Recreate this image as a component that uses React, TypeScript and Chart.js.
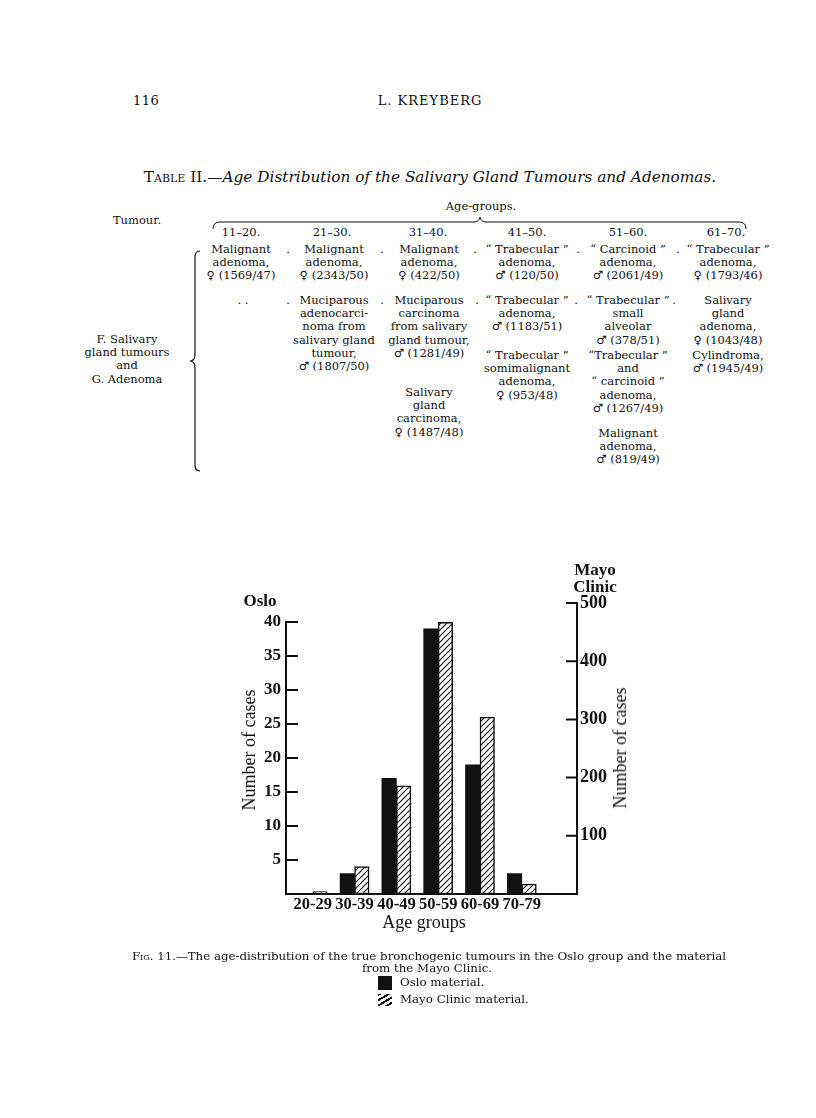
import React, { useEffect, useRef } from 'react';
import { Chart, registerables } from 'chart.js';

Chart.register(...registerables);

// ---- chart data ----
const ageGroups = ['20-29', '30-39', '40-49', '50-59', '60-69', '70-79'];
const osloCases = [0, 3, 17, 39, 19, 3];
const mayoCases = [4, 47, 186, 467, 304, 17];
const osloTicks = [5, 10, 15, 20, 25, 30, 35, 40];
const mayoTicks = [100, 200, 300, 400, 500];

const INK = '#111';
const SERIF = '"DejaVu Serif", serif';
const CHART_SERIF = '"Liberation Serif", serif';

type TProps = {
  x: number; y: number; s: number; children?: React.ReactNode;
  a?: 'center' | 'left' | 'right'; f?: string; w?: number; it?: boolean; ls?: number; rot?: number;
};
const T = ({ x, y, s, children, a = 'center', f = SERIF, w = 400, it = false, ls = 0, rot = 0 }: TProps) => {
  const tx = a === 'center' ? '-50%' : a === 'left' ? '0' : '-100%';
  return (
    <div
      style={{
        position: 'absolute', left: x, top: y,
        transform: `translate(${tx},-50%)` + (rot ? ` rotate(${rot}deg)` : ''),
        fontFamily: f, fontSize: s, fontWeight: w, fontStyle: it ? 'italic' : 'normal',
        letterSpacing: ls, whiteSpace: 'nowrap', lineHeight: 1, color: INK,
      }}
    >
      {children}
    </div>
  );
};

const LH = 13.2;
const Block = ({ x, y, lines }: { x: number; y: number; lines: string[] }) => (
  <>
    {lines.map((l, i) => (
      <T key={i} x={x} y={y + i * LH} s={11.5}>{l}</T>
    ))}
  </>
);

function BarChart() {
  const ref = useRef<HTMLCanvasElement | null>(null);
  useEffect(() => {
    const canvas = ref.current!;
    const ctx = canvas.getContext('2d')!;
    const pc = document.createElement('canvas');
    pc.width = 6; pc.height = 6;
    const g = pc.getContext('2d')!;
    g.fillStyle = '#fff'; g.fillRect(0, 0, 6, 6);
    g.strokeStyle = INK; g.lineWidth = 1.1;
    g.beginPath();
    g.moveTo(0, 6); g.lineTo(6, 0);
    g.moveTo(-1, 1); g.lineTo(1, -1);
    g.moveTo(5, 7); g.lineTo(7, 5);
    g.stroke();
    const hatch = ctx.createPattern(pc, 'repeat')!;

    const axisPlugin = {
      id: 'handAxes',
      afterDatasetsDraw(chart: any) {
        const { ctx: c, chartArea: { left, right, bottom }, scales } = chart;
        const y = scales.y, y2 = scales.y2;
        c.save();
        c.strokeStyle = INK; c.lineWidth = 2; c.lineCap = 'square';
        c.beginPath();
        c.moveTo(left, y.getPixelForValue(40));
        c.lineTo(left, bottom);
        c.lineTo(right, bottom);
        c.lineTo(right, y2.getPixelForValue(500));
        osloTicks.forEach((v) => { const p = y.getPixelForValue(v); c.moveTo(left, p); c.lineTo(left + 11, p); });
        mayoTicks.forEach((v) => { const p = y2.getPixelForValue(v); c.moveTo(right, p); c.lineTo(right - 10, p); });
        c.stroke();
        c.restore();
      },
    };

    const tickFont = { family: CHART_SERIF, size: 17, weight: 'bold' as const };
    const chart = new Chart(canvas, {
      type: 'bar',
      data: {
        datasets: [
          {
            label: 'Oslo material',
            data: osloCases.map((v, i) => ({ x: i, y: v })),
            backgroundColor: INK, borderWidth: 0, yAxisID: 'y',
          },
          {
            label: 'Mayo Clinic material',
            data: mayoCases.map((v, i) => ({ x: i, y: v })),
            backgroundColor: hatch, borderColor: INK, borderWidth: 1.5, borderSkipped: false, yAxisID: 'y2',
          },
        ],
      },
      options: {
        responsive: false,
        animation: false,
        devicePixelRatio: 1,
        barThickness: 14.5,
        layout: { padding: { left: 0, top: 63, right: 43, bottom: 36 } },
        plugins: { legend: { display: false }, tooltip: { enabled: false }, title: { display: false } },
        scales: {
          x: {
            type: 'linear', min: -0.64, max: 6.32, offset: false,
            afterBuildTicks: (s: any) => { s.ticks = ageGroups.map((_, i) => ({ value: i })); },
            afterFit: (s: any) => { s.height = 30; s.paddingLeft = 0; s.paddingRight = 0; },
            ticks: {
              autoSkip: false, maxRotation: 0, padding: 1, color: INK,
              font: { family: CHART_SERIF, size: 16.5, weight: 'bold' },
              callback: (v: any) => ageGroups[v] ?? '',
            },
            grid: { display: false, drawTicks: false, offset: false },
            border: { display: false },
          },
          y: {
            position: 'left', min: 0, max: (40 * 291) / 272,
            afterBuildTicks: (s: any) => { s.ticks = osloTicks.map((v) => ({ value: v })); },
            afterFit: (s: any) => { s.width = 86; },
            ticks: { padding: 5, color: INK, font: tickFont },
            grid: { display: false, drawTicks: false },
            border: { display: false },
          },
          y2: {
            position: 'right', min: 0, max: 500,
            afterBuildTicks: (s: any) => { s.ticks = mayoTicks.map((v) => ({ value: v })); },
            afterFit: (s: any) => { s.width = 60; },
            ticks: { padding: 3, color: INK, font: { family: CHART_SERIF, size: 18, weight: 'bold' } },
            grid: { display: false, drawTicks: false },
            border: { display: false },
          },
        },
      } as any,
      plugins: [axisPlugin],
    });
    return () => chart.destroy();
  }, []);
  return (
    <canvas
      ref={ref}
      width={480}
      height={420}
      style={{ position: 'absolute', left: 200, top: 540, width: 480, height: 420 }}
    />
  );
}

export default function App() {
  return (
    <div style={{ position: 'absolute', left: 0, top: 0, width: 816, height: 1118, background: '#fff', overflow: 'hidden' }}>
      {/* running head */}
      <T x={133} y={100} s={13} a="left" ls={0.5}>116</T>
      <T x={430} y={100} s={13} ls={1}>L. KREYBERG</T>

      {/* table title */}
      <T x={430} y={178} s={15.3}>
        <span style={{ fontVariant: 'small-caps' }}>Table</span> II.—
        <span style={{ fontStyle: 'italic' }}>Age Distribution of the Salivary Gland Tumours and Adenomas.</span>
      </T>

      <T x={481} y={207} s={11.5}>Age-groups.</T>
      <T x={137} y={221} s={11.5}>Tumour.</T>

      <svg width={816} height={500} style={{ position: 'absolute', left: 0, top: 0 }}>
        <path d="M213 229 Q213 222 220 222 L474 222 Q479 222 480 217 Q481 222 486 222 L739 222 Q746 222 746 229"
          fill="none" stroke={INK} strokeWidth={1} />
        <path d="M200 251 Q195 251 195 257 L195 354 Q195 361 190 361 Q195 361 195 368 L195 465 Q195 471 200 471"
          fill="none" stroke={INK} strokeWidth={1.2} />
      </svg>

      {/* column headers */}
      <T x={241} y={233} s={11.5}>11–20.</T>
      <T x={332} y={233} s={11.5}>21–30.</T>
      <T x={428} y={233} s={11.5}>31–40.</T>
      <T x={527} y={233} s={11.5}>41–50.</T>
      <T x={628} y={233} s={11.5}>51–60.</T>
      <T x={726} y={233} s={11.5}>61–70.</T>

      {/* row label */}
      <Block x={127} y={340} lines={['F. Salivary', 'gland tumours', 'and', 'G. Adenoma']} />

      {/* table body */}
      <Block x={241} y={250} lines={['Malignant', 'adenoma,', '♀ (1569/47)']} />
      <Block x={243} y={301} lines={['. .']} />
      <Block x={334} y={250} lines={['Malignant', 'adenoma,', '♀ (2343/50)']} />
      <Block x={334} y={301} lines={['Muciparous', 'adenocarci-', 'noma from', 'salivary gland', 'tumour,', '♂ (1807/50)']} />
      <Block x={429} y={250} lines={['Malignant', 'adenoma,', '♀ (422/50)']} />
      <Block x={429} y={301} lines={['Muciparous', 'carcinoma', 'from salivary', 'gland tumour,', '♂ (1281/49)']} />
      <Block x={429} y={393} lines={['Salivary', 'gland', 'carcinoma,', '♀ (1487/48)']} />
      <Block x={527} y={250} lines={['“ Trabecular ”', 'adenoma,', '♂ (120/50)']} />
      <Block x={527} y={301} lines={['“ Trabecular ”', 'adenoma,', '♂ (1183/51)']} />
      <Block x={527} y={356} lines={['“ Trabecular ”', 'somimalignant', 'adenoma,', '♀ (953/48)']} />
      <Block x={628} y={250} lines={['“ Carcinoid ”', 'adenoma,', '♂ (2061/49)']} />
      <Block x={628} y={301} lines={['“ Trabecular ”', 'small', 'alveolar', '♂ (378/51)']} />
      <Block x={628} y={356} lines={['“Trabecular ”', 'and', '“ carcinoid ”', 'adenoma,', '♂ (1267/49)']} />
      <Block x={628} y={434} lines={['Malignant', 'adenoma,', '♂ (819/49)']} />
      <Block x={728} y={250} lines={['“ Trabecular ”', 'adenoma,', '♀ (1793/46)']} />
      <Block x={728} y={301} lines={['Salivary', 'gland', 'adenoma,', '♀ (1043/48)']} />
      <Block x={728} y={356} lines={['Cylindroma,', '♂ (1945/49)']} />

      {/* leader dots */}
      {[288, 382, 475, 578, 678].map((x) => <T key={'a' + x} x={x} y={250} s={11.5}>.</T>)}
      {[288, 382, 477, 576, 674].map((x) => <T key={'b' + x} x={x} y={301} s={11.5}>.</T>)}

      {/* chart */}
      <BarChart />
      <T x={260} y={600} s={17} f={CHART_SERIF} w={700}>Oslo</T>
      <T x={595} y={569} s={17} f={CHART_SERIF} w={700}>Mayo</T>
      <T x={595} y={586} s={17} f={CHART_SERIF} w={700}>Clinic</T>
      <T x={249} y={750} s={18} f={CHART_SERIF} rot={-90}>Number of cases</T>
      <T x={620} y={748} s={18} f={CHART_SERIF} rot={-90}>Number of cases</T>
      <T x={424} y={922} s={18} f={CHART_SERIF}>Age groups</T>

      {/* caption */}
      <T x={429} y={957} s={11.8}>
        <span style={{ fontVariant: 'small-caps' }}>Fig</span>. 11.—The age-distribution of the true bronchogenic tumours in the Oslo group and the material
      </T>
      <T x={427} y={969} s={11.8}>from the Mayo Clinic.</T>
      <div style={{ position: 'absolute', left: 378, top: 976, width: 14, height: 14, background: INK }} />
      <T x={400} y={983} s={11.8} a="left">Oslo material.</T>
      <div
        style={{
          position: 'absolute', left: 378, top: 994, width: 14, height: 12,
          background: `repeating-linear-gradient(150deg, ${INK} 0 2px, transparent 2px 4.5px)`,
        }}
      />
      <T x={400} y={1000} s={11.8} a="left">Mayo Clinic material.</T>
    </div>
  );
}
